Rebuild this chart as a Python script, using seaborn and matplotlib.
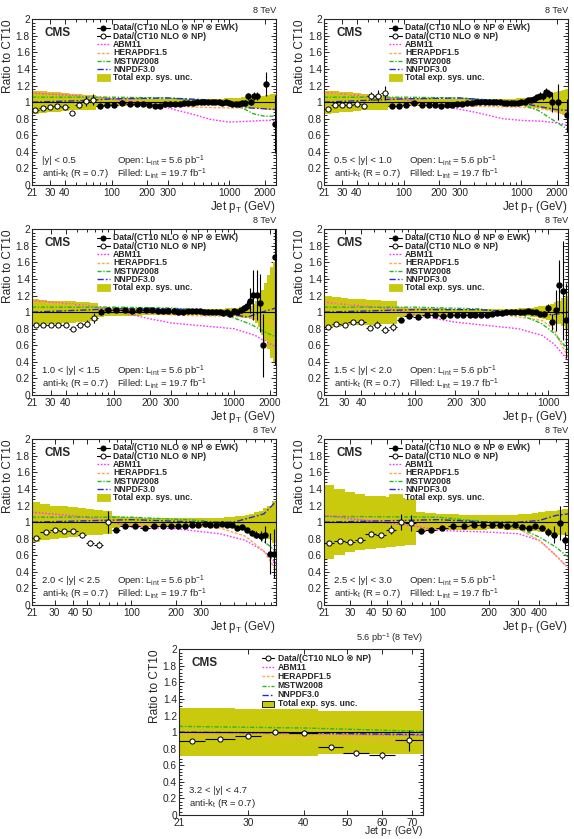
import numpy as np
import pandas as pd
import matplotlib
matplotlib.use("Agg")
import matplotlib.pyplot as plt
import seaborn as sns
from matplotlib.ticker import FixedLocator, FixedFormatter, MultipleLocator, LogLocator, NullFormatter, FuncFormatter
from matplotlib.patches import Rectangle
from matplotlib.lines import Line2D

nan = np.nan

# ---------------- data ----------------
EDGES = [21, 24, 28, 32, 37, 43, 49, 56, 64, 74, 84, 97, 114, 133, 153, 174, 196, 220, 245, 272,
         300, 330, 362, 395, 430, 468, 507, 548, 592, 638, 686, 737, 790, 846, 905, 967, 1032,
         1101, 1172, 1248, 1327, 1410, 1497, 1588, 1684, 1784, 1890, 2000, 2116, 2238, 2366, 2500]

# |y| < 0.5
P1_LOW = [0.90, 0.93, 0.94, 0.95, 0.94, 0.87, 0.97, 1.01, 1.03]
P1_LOW_ERR = [0.02, 0.02, 0.02, 0.02, 0.02, 0.02, 0.04, 0.06, 0.07]
P1_HIGH = [0.95, 0.96, 0.97, 0.99, 0.98, 0.98, 0.98, 0.96, 0.95, 0.95,
           0.98, 0.98, 0.98, 0.98, 0.99, 0.99, 0.99, 1.00, 1.00, 1.00,
           1.00, 1.00, 1.00, 1.00, 0.99, 1.00, 0.99, 0.98, 0.98, 0.98,
           0.99, 0.99, 1.07, 1.00, 1.07, 1.07, nan, nan, 1.22, nan, nan, 0.74]
P1_HIGH_ERR = [0.01, 0.01, 0.01, 0.01, 0.01, 0.01, 0.01, 0.01, 0.01, 0.01,
               0.01, 0.01, 0.01, 0.01, 0.01, 0.01, 0.01, 0.01, 0.01, 0.01,
               0.01, 0.01, 0.01, 0.01, 0.01, 0.01, 0.015, 0.015, 0.02, 0.02,
               0.025, 0.03, 0.04, 0.04, 0.05, 0.05, 0, 0, 0.14, 0, 0, 0.35]
P1_BAND_LOW = [0.14, 0.13, 0.12, 0.12, 0.11, 0.10, 0.10, 0.09, 0.09]
P1_BAND_HIGH = [0.06, 0.06, 0.05, 0.05, 0.05, 0.045, 0.045, 0.04, 0.04, 0.04,
                0.04, 0.04, 0.04, 0.04, 0.04, 0.04, 0.04, 0.04, 0.04, 0.04,
                0.04, 0.04, 0.04, 0.04, 0.04, 0.045, 0.045, 0.05, 0.05, 0.055,
                0.06, 0.06, 0.065, 0.07, 0.07, 0.075, 0.08, 0.08, 0.09, 0.09, 0.10, 0.10]
P1_ABM = [(21, 1.11), (50, 1.08), (100, 1.04), (200, 0.98), (300, 0.93), (500, 0.85), (700, 0.79),
          (1000, 0.76), (1500, 0.77), (2000, 0.78), (2500, 0.78)]
P1_HERA = [(21, 1.13), (50, 1.09), (100, 1.05), (200, 1.00), (300, 0.96), (500, 0.94), (1000, 0.93),
           (1500, 0.93), (2000, 0.93), (2500, 0.93)]
P1_MSTW = [(21, 1.06), (100, 1.06), (300, 1.05), (600, 1.02), (1000, 0.97), (1300, 0.93),
           (1600, 0.86), (2000, 0.83), (2500, 0.83)]
P1_NNPDF = [(21, 1.00), (60, 1.02), (100, 1.04), (300, 1.05), (600, 1.03), (1000, 0.99),
            (1500, 0.93), (2000, 0.92), (2500, 0.91)]

# 0.5 < |y| < 1.0
P2_LOW = [0.92, 0.96, 0.96, 0.96, 0.98, 0.95, 1.07, 1.08, 1.11]
P2_LOW_ERR = [0.02, 0.02, 0.02, 0.02, 0.02, 0.02, 0.05, 0.07, 0.08]
P2_HIGH = [0.95, 0.95, 0.97, 0.99, 0.97, 0.97, 0.96, 0.95, 0.97, 0.97,
           0.98, 0.98, 0.99, 0.99, 1.00, 1.00, 1.00, 1.00, 1.00, 1.00,
           1.00, 0.99, 0.99, 0.99, 0.99, 0.99, 1.00, 1.00, 1.02, 1.03,
           1.04, 1.06, 1.08, 1.07, 1.12, 1.10, 1.00, nan, 1.00, nan, nan, 0.84]
P2_HIGH_ERR = [0.01, 0.01, 0.01, 0.01, 0.01, 0.01, 0.01, 0.01, 0.01, 0.01,
               0.01, 0.01, 0.01, 0.01, 0.01, 0.01, 0.01, 0.01, 0.01, 0.01,
               0.01, 0.01, 0.01, 0.01, 0.01, 0.01, 0.015, 0.015, 0.02, 0.02,
               0.03, 0.03, 0.04, 0.04, 0.05, 0.05, 0.12, 0, 0.22, 0, 0, 0.2]
P2_BAND_LOW = [0.14, 0.13, 0.12, 0.12, 0.11, 0.10, 0.10, 0.09, 0.09]
P2_BAND_HIGH = [0.06, 0.06, 0.05, 0.05, 0.05, 0.045, 0.045, 0.04, 0.04, 0.04,
                0.04, 0.04, 0.04, 0.04, 0.04, 0.04, 0.04, 0.04, 0.04, 0.04,
                0.04, 0.04, 0.04, 0.04, 0.04, 0.045, 0.05, 0.05, 0.055, 0.06,
                0.065, 0.07, 0.075, 0.08, 0.09, 0.10, 0.11, 0.12, 0.13, 0.14, 0.15, 0.16]
P2_ABM = [(21, 1.12), (100, 1.03), (200, 0.96), (400, 0.88), (700, 0.80), (1000, 0.78),
          (1500, 0.77), (2000, 0.75), (2500, 0.72)]
P2_HERA = [(21, 1.12), (100, 1.04), (200, 0.98), (400, 0.95), (1000, 0.94), (1500, 0.92),
           (2000, 0.88), (2500, 0.85)]
P2_MSTW = [(21, 1.06), (100, 1.06), (300, 1.05), (600, 1.02), (1000, 0.97), (1400, 0.90),
           (1700, 0.82), (2500, 0.67)]
P2_NNPDF = [(21, 1.00), (100, 1.04), (300, 1.05), (600, 1.02), (1000, 0.99), (1500, 0.94),
            (2000, 0.91), (2500, 0.90)]

# 1.0 < |y| < 1.5
P3_LOW = [0.84, 0.85, 0.85, 0.84, 0.85, 0.80, 0.84, 0.86, 0.93]
P3_LOW_ERR = [0.02, 0.02, 0.02, 0.02, 0.02, 0.02, 0.03, 0.04, 0.06]
P3_HIGH = [1.00, 1.02, 1.02, 1.02, 1.01, 1.02, 1.02, 1.02, 1.01, 1.01,
           1.01, 1.01, 1.00, 1.00, 1.01, 1.01, 1.01, 1.01, 1.00, 1.00,
           1.00, 1.00, 1.00, 0.99, 1.00, 0.98, 1.01, 1.00, 1.02, 1.05,
           1.08, 1.14, 1.21, 1.21, 1.11, 0.60, nan, nan, nan, 1.66]
P3_HIGH_ERR = [0.01, 0.01, 0.01, 0.01, 0.01, 0.01, 0.01, 0.01, 0.01, 0.01,
               0.01, 0.01, 0.01, 0.01, 0.01, 0.01, 0.01, 0.01, 0.01, 0.01,
               0.01, 0.01, 0.01, 0.01, 0.01, 0.01, 0.02, 0.02, 0.03, 0.04,
               0.06, 0.15, 0.3, 0.3, 0.35, 0.38, 0, 0, 0, 1.3]
P3_BAND_LOW = [0.16, 0.15, 0.14, 0.14, 0.13, 0.13, 0.12, 0.12, 0.11]
P3_BAND_HIGH = [0.06, 0.05, 0.05, 0.05, 0.045, 0.045, 0.04, 0.04, 0.04, 0.04,
                0.04, 0.04, 0.04, 0.04, 0.04, 0.04, 0.04, 0.04, 0.04, 0.04,
                0.04, 0.04, 0.04, 0.04, 0.045, 0.05, 0.05, 0.055, 0.06, 0.065,
                0.07, 0.08, 0.10, 0.13, 0.18, 0.27, 0.35, 0.45, 0.55, 0.60]
P3_ABM = [(21, 1.14), (60, 1.08), (100, 1.02), (200, 0.92), (300, 0.87), (500, 0.84),
          (1000, 0.80), (1500, 0.72), (1800, 0.65), (2238, 0.58)]
P3_HERA = [(21, 1.13), (100, 1.05), (200, 0.98), (400, 0.96), (1000, 0.95), (1500, 0.93),
           (2238, 0.88)]
P3_MSTW = [(21, 1.06), (100, 1.06), (300, 1.05), (600, 1.02), (1000, 0.93), (1400, 0.85),
           (1700, 0.78), (2238, 0.70)]
P3_NNPDF = [(21, 1.00), (100, 1.04), (300, 1.04), (600, 1.02), (1000, 0.97), (1300, 0.94),
            (1700, 1.00), (2238, 1.05)]

# 1.5 < |y| < 2.0
P4_LOW = [0.82, 0.86, 0.85, 0.88, 0.88, 0.81, 0.85, 0.79, 0.82]
P4_LOW_ERR = [0.02, 0.02, 0.02, 0.02, 0.02, 0.03, 0.04, 0.04, 0.05]
P4_HIGH = [0.90, 0.95, 0.94, 0.97, 0.96, 0.95, 0.96, 0.96, 0.96, 0.97,
           0.97, 0.97, 0.97, 0.98, 0.99, 0.99, 1.00, 1.00, 1.00, 1.00,
           1.00, 1.01, 1.00, 1.00, 0.98, 0.98, 1.05, 0.88, 1.02, 1.33, 1.26, 0.90]
P4_HIGH_ERR = [0.01, 0.01, 0.01, 0.01, 0.01, 0.01, 0.01, 0.01, 0.01, 0.01,
               0.01, 0.01, 0.01, 0.01, 0.01, 0.01, 0.01, 0.01, 0.01, 0.01,
               0.01, 0.01, 0.01, 0.015, 0.02, 0.03, 0.05, 0.10, 0.25, 0.30, 0.60, 0.45]
P4_BAND_LOW = [0.19, 0.18, 0.17, 0.16, 0.16, 0.15, 0.15, 0.14, 0.14]
P4_BAND_HIGH = [0.06, 0.05, 0.05, 0.05, 0.045, 0.045, 0.04, 0.04, 0.04, 0.04,
                0.04, 0.04, 0.04, 0.04, 0.04, 0.04, 0.04, 0.04, 0.04, 0.045,
                0.05, 0.05, 0.055, 0.06, 0.07, 0.08, 0.09, 0.10, 0.12, 0.14, 0.17, 0.20]
P4_ABM = [(21, 1.12), (60, 1.05), (100, 0.97), (200, 0.88), (300, 0.85), (600, 0.80),
          (900, 0.72), (1100, 0.62), (1410, 0.42)]
P4_HERA = [(21, 1.12), (100, 1.04), (200, 0.97), (500, 0.96), (900, 0.90), (1100, 0.80),
           (1410, 0.45)]
P4_MSTW = [(21, 1.06), (100, 1.06), (300, 1.04), (600, 0.98), (900, 0.86), (1100, 0.75),
           (1410, 0.55)]
P4_NNPDF = [(21, 1.00), (100, 1.03), (300, 1.03), (600, 1.00), (900, 0.97), (1100, 0.97),
            (1410, 1.00)]

# 2.0 < |y| < 2.5
P5_LOW = [0.81, 0.88, 0.90, 0.89, 0.89, 0.84, 0.75, 0.73, 1.00]
P5_LOW_ERR = [0.02, 0.02, 0.02, 0.02, 0.03, 0.03, 0.04, 0.04, 0.13]
P5_HIGH = [0.91, 0.95, 0.95, 0.93, 0.95, 0.95, 0.95, 0.95, 0.95, 0.97,
           0.97, 0.98, 0.97, 0.97, 0.98, 0.96, 0.96, 0.93, 0.94, 0.90,
           0.87, 0.85, 0.83, 0.85, 0.62, 0.62]
P5_HIGH_ERR = [0.01, 0.01, 0.01, 0.01, 0.01, 0.01, 0.01, 0.01, 0.01, 0.01,
               0.01, 0.01, 0.01, 0.01, 0.01, 0.01, 0.01, 0.015, 0.02, 0.02,
               0.03, 0.04, 0.06, 0.10, 0.25, 0.30]
P5_BAND_LOW = [0.24, 0.22, 0.20, 0.19, 0.18, 0.17, 0.16, 0.15, 0.14]
P5_BAND_HIGH = [0.07, 0.06, 0.06, 0.055, 0.05, 0.05, 0.05, 0.05, 0.05, 0.05,
                0.05, 0.05, 0.05, 0.05, 0.055, 0.06, 0.065, 0.07, 0.08, 0.09,
                0.10, 0.12, 0.14, 0.17, 0.20, 0.25]
P5_ABM = [(21, 1.12), (50, 1.06), (74, 1.00), (100, 0.94), (200, 0.92), (400, 0.86),
          (600, 0.78), (800, 0.65), (967, 0.50)]
P5_HERA = [(21, 1.10), (74, 1.02), (100, 0.97), (200, 0.96), (400, 0.93), (600, 0.83),
           (800, 0.65), (967, 0.42)]
P5_MSTW = [(21, 1.06), (100, 1.06), (300, 1.02), (500, 0.95), (700, 0.85), (967, 0.65)]
P5_NNPDF = [(21, 1.00), (100, 1.03), (300, 1.00), (500, 1.00), (800, 1.10), (967, 1.25)]

# 2.5 < |y| < 3.0
P6_LOW = [0.75, 0.77, 0.76, 0.78, 0.86, 0.84, 0.91, 1.00, 0.99]
P6_LOW_ERR = [0.02, 0.02, 0.02, 0.02, 0.03, 0.03, 0.05, 0.10, 0.10]
P6_HIGH = [0.89, 0.91, 0.93, 0.95, 0.95, 0.96, 0.97, 0.97, 0.97, 0.95,
           0.96, 0.94, 0.93, 0.95, 0.93, 0.88, 0.85, 0.99, 0.78]
P6_HIGH_ERR = [0.01, 0.01, 0.01, 0.01, 0.01, 0.01, 0.01, 0.01, 0.01, 0.01,
               0.015, 0.02, 0.02, 0.02, 0.03, 0.05, 0.10, 0.20, 0.10]
P6_BAND_LOW = [0.45, 0.40, 0.36, 0.34, 0.32, 0.31, 0.30, 0.29, 0.28]
P6_BAND_HIGH = [0.12, 0.11, 0.10, 0.10, 0.09, 0.09, 0.09, 0.085, 0.085, 0.09,
                0.09, 0.10, 0.10, 0.11, 0.12, 0.13, 0.14, 0.15, 0.16]
P6_ABM = [(21, 1.08), (74, 0.95), (100, 0.90), (200, 0.88), (300, 0.86), (400, 0.78),
          (500, 0.60), (592, 0.45)]
P6_HERA = [(21, 1.10), (60, 1.00), (100, 0.95), (200, 0.95), (300, 0.92), (400, 0.78),
           (500, 0.60), (592, 0.45)]
P6_MSTW = [(21, 1.07), (100, 1.06), (200, 1.00), (300, 0.93), (400, 0.82), (500, 0.70),
           (592, 0.58)]
P6_NNPDF = [(21, 1.00), (100, 1.03), (200, 1.00), (300, 1.00), (400, 1.02), (500, 1.08),
            (592, 1.10)]

# 3.2 < |y| < 4.7
P7_LOW = [0.89, 0.92, 0.95, 1.00, 0.99, 0.82, 0.75, 0.72, 0.90]
P7_LOW_ERR = [0.02, 0.02, 0.02, 0.02, 0.03, 0.03, 0.04, 0.04, 0.13]
P7_BAND_LOW = [0.29, 0.29, 0.285, 0.285, 0.285, 0.26, 0.26, 0.26, 0.26]
P7_ABM = [(21, 1.00), (40, 0.98), (74, 0.96)]
P7_HERA = [(21, 0.96), (30, 0.95), (40, 0.92), (60, 0.90), (74, 0.88)]
P7_MSTW = [(21, 1.07), (40, 1.05), (74, 1.01)]
P7_NNPDF = [(21, 1.00), (40, 0.99), (74, 0.97)]

TICKS_A = [21, 30, 40, 100, 200, 300, 1000, 2000]
TICKS_B = [21, 30, 40, 100, 200, 300, 1000]
TICKS_C = [21, 30, 40, 50, 100, 200, 300]
TICKS_D = [21, 30, 40, 50, 60, 100, 200, 300, 400]
TICKS_E = [21, 30, 40, 50, 60, 70]

# ---------------- style ----------------
sns.set_style("ticks")
plt.rcParams['font.family'] = ['Liberation Sans', 'DejaVu Sans']
plt.rcParams['mathtext.fontset'] = 'custom'
plt.rcParams['mathtext.rm'] = 'Liberation Sans'
plt.rcParams['mathtext.it'] = 'Liberation Sans:italic'
plt.rcParams['mathtext.bf'] = 'Liberation Sans:bold'

BAND = '#c9c90e'
THEORY = [
    ('ABM11', '#ff33ff', (0, (1.2, 1.2))),
    ('HERAPDF1.5', '#ffa64d', (0, (2.0, 1.2))),
    ('MSTW2008', '#22bb22', (0, (3.0, 1.2, 1.0, 1.2))),
    ('NNPDF3.0', '#2a2acc', (0, (4.5, 1.5, 1.2, 1.5))),
]
FAM = ['Liberation Sans', 'DejaVu Sans']
LEG_FS = 6.2
ANN_FS = 6.8


def bars(edges, vals, errs):
    e = np.asarray(edges, float)
    v = np.asarray(vals, float)
    r = np.asarray(errs, float)
    c = 0.5 * (e[:-1] + e[1:])
    m = ~np.isnan(v)
    return c[m], v[m], r[m], (c - e[:-1])[m], (e[1:] - c)[m]


def band(ax, edges, half):
    h = np.asarray(half, float)
    lo = np.r_[1 - h, 1 - h[-1]]
    hi = np.r_[1 + h, 1 + h[-1]]
    ax.fill_between(edges, lo, hi, step='post', color=BAND, lw=0, zorder=1)


def legend(ax, filled, x0, x1, xt, y0, dy, boxedge):
    entries = []
    if filled:
        entries.append(('filled', 'Data/(CT10 NLO \u2297 NP \u2297 EWK)'))
    entries.append(('open', 'Data/(CT10 NLO \u2297 NP)'))
    for name, col, ls in THEORY:
        entries.append((name, name))
    entries.append(('band', 'Total exp. sys. unc.'))
    styles = {n: (c, l) for n, c, l in THEORY}
    for i, (kind, label) in enumerate(entries):
        y = y0 - i * dy
        if kind in ('filled', 'open'):
            ax.add_line(Line2D([x0, x1], [y, y], transform=ax.transAxes, color='k', lw=0.8, clip_on=False))
            ax.add_line(Line2D([0.5 * (x0 + x1)], [y], transform=ax.transAxes, marker='o', ms=3.6,
                               mfc='k' if kind == 'filled' else 'white', mec='k', mew=0.7,
                               lw=0, clip_on=False))
        elif kind == 'band':
            ax.add_patch(Rectangle((x0, y - 0.02), x1 - x0, 0.04, transform=ax.transAxes,
                                   facecolor=BAND, edgecolor='k' if boxedge else BAND, lw=0.6,
                                   clip_on=False))
        else:
            c, l = styles[kind]
            ax.add_line(Line2D([x0, x1], [y, y], transform=ax.transAxes, color=c, ls=l, lw=1.0, clip_on=False))
        ax.text(xt, y, label, transform=ax.transAxes, fontsize=LEG_FS, fontweight='bold',
                va='center', ha='left', family=FAM)


def panel(fig, rect, xmax, ticks, low, low_err, band_low, theory, ylab,
          high=None, high_err=None, band_high=None, title='8 TeV', filled=True,
          xlab_y=-0.085, xlab_va='top', xpad=2.0, xlab_fs=8.3):
    ax = fig.add_axes(rect)
    ax.set_xscale('log')
    ax.set_xlim(21, xmax)
    ax.set_ylim(0, 2)

    band(ax, EDGES[:10], band_low)
    if band_high is not None:
        band(ax, EDGES[9:9 + len(band_high) + 1], band_high)

    for (name, col, ls), pts in zip(THEORY, theory):
        df = pd.DataFrame(pts, columns=['pt', 'ratio'])
        sns.lineplot(data=df, x='pt', y='ratio', ax=ax, color=col, linestyle=ls, lw=1.0,
                     estimator=None, legend=False, zorder=2)

    ax.axhline(1.0, color='black', lw=0.8, zorder=3)

    x, y, ye, xl, xh = bars(EDGES[:10], low, low_err)
    ax.errorbar(x, y, yerr=ye, xerr=[xl, xh], fmt='o', ms=3.7, mfc='white', mec='black', mew=0.7,
                ecolor='black', elinewidth=0.8, capsize=0, zorder=5)
    if high is not None:
        x, y, ye, xl, xh = bars(EDGES[9:9 + len(high) + 1], high, high_err)
        ax.errorbar(x, y, yerr=ye, xerr=[xl, xh], fmt='o', ms=3.6, mfc='black', mec='black',
                    ecolor='black', elinewidth=0.8, capsize=0, zorder=5)

    ax.set_xlabel('')
    ax.set_ylabel('')
    ax.xaxis.set_major_locator(FixedLocator(ticks))
    ax.xaxis.set_major_formatter(FixedFormatter([str(t) for t in ticks]))
    ax.xaxis.set_minor_locator(LogLocator(base=10, subs=np.arange(1, 10), numticks=60))
    ax.xaxis.set_minor_formatter(NullFormatter())
    ax.yaxis.set_major_locator(MultipleLocator(0.2))
    ax.yaxis.set_minor_locator(MultipleLocator(0.04))
    ax.yaxis.set_major_formatter(FuncFormatter(lambda v, p: '%g' % round(v, 2)))
    ax.tick_params(which='both', direction='in', top=True, right=True, labelsize=7.3, width=0.7)
    ax.tick_params(which='major', length=3.8)
    ax.tick_params(axis='x', which='major', pad=xpad)
    ax.tick_params(axis='y', which='major', pad=1.5)
    ax.tick_params(which='minor', length=2.0)
    for s in ax.spines.values():
        s.set_linewidth(0.8)
    ax.set_xlim(21, xmax)

    ax.text(0.05, 0.955, 'CMS', transform=ax.transAxes, fontsize=8.5, fontweight='bold',
            va='top', ha='left')
    ax.text(1.0, 1.025, title, transform=ax.transAxes, fontsize=6.6, ha='right', va='bottom')
    ax.text(0.04, 0.145, ylab, transform=ax.transAxes, fontsize=ANN_FS, ha='left', va='center', family=FAM)
    ax.text(0.04, 0.068, 'anti-k$_{\\mathrm{t}}$ (R = 0.7)', transform=ax.transAxes, fontsize=ANN_FS,
            ha='left', va='center')
    if filled:
        ax.text(0.35, 0.145, 'Open: L$_{\\mathrm{int}}$ = 5.6 pb$^{-1}$', transform=ax.transAxes,
                fontsize=ANN_FS, ha='left', va='center')
        ax.text(0.35, 0.068, 'Filled: L$_{\\mathrm{int}}$ = 19.7 fb$^{-1}$', transform=ax.transAxes,
                fontsize=ANN_FS, ha='left', va='center')
        legend(ax, True, 0.265, 0.318, 0.332, 0.948, 0.05, False)
    else:
        legend(ax, False, 0.34, 0.39, 0.405, 0.946, 0.055, True)
    ax.text(1.0, xlab_y, 'Jet p$_{\\mathrm{T}}$ (GeV)', transform=ax.transAxes, fontsize=xlab_fs,
            ha='right', va=xlab_va)
    ax.text(-0.098, 1.0, 'Ratio to CT10', transform=ax.transAxes, fontsize=8.6, rotation=90,
            ha='center', va='top')
    return ax


fig = plt.figure(figsize=(5.74, 8.39), dpi=100)
W, H = 0.4251, 0.1975
XL, XR, XM = 0.0557, 0.5645, 0.3118
Y1, Y2, Y3, Y4 = 0.7795, 0.5292, 0.2789, 0.0286

panel(fig, [XL, Y1, W, H], 2500, TICKS_A, P1_LOW, P1_LOW_ERR, P1_BAND_LOW,
      [P1_ABM, P1_HERA, P1_MSTW, P1_NNPDF], '|y| < 0.5', P1_HIGH, P1_HIGH_ERR, P1_BAND_HIGH)
panel(fig, [XR, Y1, W, H], 2500, TICKS_A, P2_LOW, P2_LOW_ERR, P2_BAND_LOW,
      [P2_ABM, P2_HERA, P2_MSTW, P2_NNPDF], '0.5 < |y| < 1.0', P2_HIGH, P2_HIGH_ERR, P2_BAND_HIGH)
panel(fig, [XL, Y2, W, H], 2238, TICKS_A, P3_LOW, P3_LOW_ERR, P3_BAND_LOW,
      [P3_ABM, P3_HERA, P3_MSTW, P3_NNPDF], '1.0 < |y| < 1.5', P3_HIGH, P3_HIGH_ERR, P3_BAND_HIGH)
panel(fig, [XR, Y2, W, H], 1410, TICKS_B, P4_LOW, P4_LOW_ERR, P4_BAND_LOW,
      [P4_ABM, P4_HERA, P4_MSTW, P4_NNPDF], '1.5 < |y| < 2.0', P4_HIGH, P4_HIGH_ERR, P4_BAND_HIGH)
panel(fig, [XL, Y3, W, H], 967, TICKS_C, P5_LOW, P5_LOW_ERR, P5_BAND_LOW,
      [P5_ABM, P5_HERA, P5_MSTW, P5_NNPDF], '2.0 < |y| < 2.5', P5_HIGH, P5_HIGH_ERR, P5_BAND_HIGH)
panel(fig, [XR, Y3, W, H], 592, TICKS_D, P6_LOW, P6_LOW_ERR, P6_BAND_LOW,
      [P6_ABM, P6_HERA, P6_MSTW, P6_NNPDF], '2.5 < |y| < 3.0', P6_HIGH, P6_HIGH_ERR, P6_BAND_HIGH)
panel(fig, [XM, Y4, W, H], 74, TICKS_E, P7_LOW, P7_LOW_ERR, P7_BAND_LOW,
      [P7_ABM, P7_HERA, P7_MSTW, P7_NNPDF], '3.2 < |y| < 4.7',
      title='5.6 pb$^{-1}$ (8 TeV)', filled=False, xlab_y=-0.14, xlab_va='bottom',
      xpad=2.0, xlab_fs=7.5)

fig.savefig('out.png', dpi=100)
